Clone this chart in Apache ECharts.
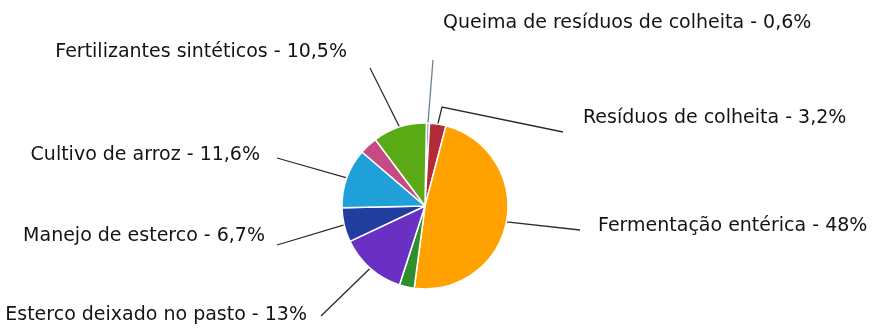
<!DOCTYPE html>
<html>
<head>
<meta charset="utf-8">
<script src="https://cdn.jsdelivr.net/npm/echarts@6/dist/echarts.min.js"></script>
<style>
  html, body { margin: 0; background: #fff; }
  #chart { width: 874px; height: 328px; }
</style>
</head>
<body>
<div id="chart"></div>
<script>
// fatias no sentido horário a partir do topo
const categories = [
  'Queima de resíduos de colheita',
  'Resíduos de colheita',
  'Fermentação entérica',
  'Outras',
  'Esterco deixado no pasto',
  'Manejo de esterco',
  'Cultivo de arroz',
  'Outros',
  'Fertilizantes sintéticos'
];
const values = [0.6, 3.2, 48, 2.9, 13, 6.7, 11.6, 3.5, 10.5];
const percentLabels = ['0,6%', '3,2%', '48%', '', '13%', '6,7%', '11,6%', '', '10,5%'];

const colors = ['#8fa6bd', '#b52a38', '#ffa200', '#2f8f2f', '#6a30c4', '#213d9e', '#1fa0d8', '#c84a84', '#5aaa16'];

// rótulo: x, y, alinhamento, fim da linha guia, dobra opcional
const labelPos = {
  0: [443, 23, 'left', [433, 60]],
  1: [583, 118, 'left', [563, 132], [442, 107]],
  2: [598, 226, 'left', [580, 230]],
  4: [307, 315, 'right', [321, 316]],
  5: [265, 236, 'right', [277, 245]],
  6: [260, 155, 'right', [277, 158]],
  8: [347, 52, 'right', [370, 68]]
};

const chart = echarts.init(document.getElementById('chart'));

const data = categories.map((name, i) => ({
  name: name,
  value: values[i],
  itemStyle: { color: colors[i] },
  label: { show: percentLabels[i] !== '' },
  labelLine: {
    show: percentLabels[i] !== '',
    lineStyle: i === 0 ? { color: '#6d8296' } : undefined
  }
}));

chart.setOption({
  backgroundColor: '#fff',
  animation: false,
  series: [
    {
      type: 'pie',
      center: [425, 206],
      radius: 83,
      startAngle: 89,
      clockwise: true,
      avoidLabelOverlap: false,
      itemStyle: {
        borderColor: '#fff',
        borderWidth: 1.5
      },
      label: {
        formatter: (p) => p.name + ' - ' + percentLabels[p.dataIndex],
        fontFamily: '"DejaVu Sans", sans-serif',
        fontSize: 19,
        color: '#141414'
      },
      labelLine: {
        length: 20,
        length2: 2,
        lineStyle: { color: '#2b2b2b', width: 1.3 }
      },
      labelLayout: (params) => {
        const p = labelPos[params.dataIndex];
        if (!p) return {};
        const start = params.labelLinePoints[0];
        const pts = p[4] ? [start, p[4], p[3]] : [start, p[3]];
        return { x: p[0], y: p[1], align: p[2], verticalAlign: 'middle', labelLinePoints: pts };
      },
      data: data
    }
  ]
});
</script>
</body>
</html>
